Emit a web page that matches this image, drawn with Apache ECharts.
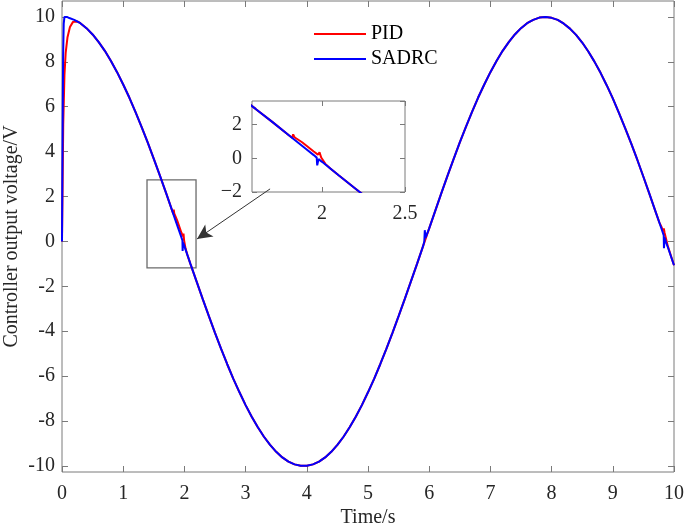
<!DOCTYPE html>
<html><head><meta charset="utf-8">
<script src="https://cdn.jsdelivr.net/npm/echarts@6/dist/echarts.min.js"></script>
<style>html,body{margin:0;padding:0;background:#fff}#c{width:685px;height:528px}</style>
</head><body><div id="c"></div><script>
// Sample times (s) of the tracked output
const time = [0,0.1,0.2,0.3,0.4,0.5,0.6,0.7,0.8,0.9,1,1.1,1.2,1.3,1.4,1.5,1.6,1.7,1.8,1.9,2,2.1,2.2,2.3,2.4,2.5,2.6,2.7,2.8,2.9,3,3.1,3.2,3.3,3.4,3.5,3.6,3.7,3.8,3.9,4,4.1,4.2,4.3,4.4,4.5,4.6,4.7,4.8,4.9,5,5.1,5.2,5.3,5.4,5.5,5.6,5.7,5.8,5.9,6,6.1,6.2,6.3,6.4,6.5,6.6,6.7,6.8,6.9,7,7.1,7.2,7.3,7.4,7.5,7.6,7.7,7.8,7.9,8,8.1,8.2,8.3,8.4,8.5,8.6,8.7,8.8,8.9,9,9.1,9.2,9.3,9.4,9.5,9.6,9.7,9.8,9.9,10];
// Common controller output (V) that both controllers follow
const reference = [10,9.97,9.87,9.72,9.50,9.22,8.88,8.49,8.04,7.54,6.99,6.41,5.77,5.10,4.41,3.68,2.93,2.16,1.37,0.58,-0.21,-1.01,-1.79,-2.57,-3.33,-4.07,-4.79,-5.47,-6.12,-6.72,-7.29,-7.81,-8.28,-8.70,-9.06,-9.37,-9.62,-9.81,-9.93,-9.99,-9.99,-9.93,-9.81,-9.62,-9.37,-9.06,-8.70,-8.28,-7.81,-7.29,-6.72,-6.12,-5.47,-4.79,-4.07,-3.33,-2.57,-1.79,-1.01,-0.21,0.58,1.37,2.16,2.93,3.68,4.41,5.10,5.77,6.41,6.99,7.54,8.04,8.49,8.88,9.22,9.50,9.72,9.87,9.97,10.00,9.96,9.87,9.70,9.48,9.20,8.86,8.46,8.01,7.51,6.96,6.37,5.73,5.06,4.37,3.64,2.88,2.11,1.32,0.53,-0.26,-1.06];

// PID local segments (start-up and zero-crossing disturbances)
const pidSegT = [
  [0,0.01,0.02,0.04,0.06,0.09,0.13,0.18,0.25],
  [1.82,1.826,1.834,1.88,1.95,1.975,1.985,1.995,2.02,2.05],
  [9.76,9.80,9.826,9.834,9.845,9.87,9.9]
];
const pidSegV = [
  [0,2.5,5.2,7.4,8.4,9.1,9.55,9.78,9.80],
  [1.22,1.42,1.25,0.95,0.40,0.22,0.35,0.05,-0.33,-0.61],
  [0.85,0.62,0.45,0.58,0.40,0.12,-0.22]
];
// SADRC local segments
const sadrcSegT = [
  [0,0.008,0.018,0.028,0.04,0.08,0.12],
  [1.95,1.968,1.971,1.976,1.979,1.99,2.0],
  [5.92,5.928,5.932,5.94],
  [9.82,9.832,9.836,9.842,9.846,9.87]
];
const sadrcSegV = [
  [0,4.0,8.2,9.7,10.0,10.0,9.95],
  [0.19,0.04,-0.42,-0.40,-0.05,-0.12,-0.21],
  [0.0,0.5,0.45,0.16],
  [0.37,0.27,-0.30,-0.28,0.17,-0.04]
];

const yTicks = [-10,-8,-6,-4,-2,0,2,4,6,8,10];
const insetXTicks = [2, 2.5];

function build(segT, segV) {
  const pts = [];
  segT.forEach((ts, g) => ts.forEach((t, i) => pts.push([t, segV[g][i]])));
  time.forEach((t, i) => {
    const inside = segT.some(ts => t >= ts[0] - 1e-9 && t <= ts[ts.length - 1] + 1e-9);
    if (!inside) pts.push([t, reference[i]]);
  });
  pts.sort((a, b) => a[0] - b[0]);
  return pts;
}
const pidData = build(pidSegT, pidSegV);
const sadrcData = build(sadrcSegT, sadrcSegV);

const FONT = 'Liberation Serif';
const AX = '#7a7a7a';
const TXT = '#262626';

function ax(grid, pos, opts, labels) {
  return Object.assign({
    type: 'value', gridIndex: grid, position: pos,
    axisLine: {show: false, onZero: false},
    axisTick: {show: true, inside: true, length: 6, lineStyle: {color: AX}},
    axisLabel: {show: labels, fontFamily: FONT, fontSize: 20, color: TXT, margin: 12},
    splitLine: {show: false},
    nameMoveOverlap: false
  }, opts);
}

const chart = echarts.init(document.getElementById('c'), null, {renderer: 'canvas'});
const option = {
  animation: false,
  backgroundColor: '#fff',
  legend: {
    data: ['PID', 'SADRC'], orient: 'vertical', left: 314, top: 24, padding: 0,
    icon: 'rect', itemWidth: 52, itemHeight: 2, itemGap: 5,
    textStyle: {fontFamily: FONT, fontSize: 20, color: '#000', lineHeight: 20, padding: [0,0,0,0]}
  },
  grid: [
    {left: 62, right: 11, top: 1, bottom: 56, containLabel: false, outerBoundsMode: 'none',
      show: true, borderColor: AX, borderWidth: 1, backgroundColor: 'rgba(0,0,0,0)'},
    {left: 252, top: 101, width: 153, height: 91, containLabel: false, outerBoundsMode: 'none',
      show: true, backgroundColor: '#fff', borderColor: AX, borderWidth: 1}
  ],
  xAxis: [
    ax(0, 'bottom', {min: 0, max: 10, interval: 1, name: 'Time/s', nameLocation: 'middle', nameGap: 36,
      nameTextStyle: {fontFamily: FONT, fontSize: 20, color: TXT}}, true),
    ax(0, 'top', {min: 0, max: 10, interval: 1}, false),
    ax(1, 'bottom', {min: 1.578, max: 2.5,
      axisTick: {show: true, inside: true, length: 5, lineStyle: {color: AX}, customValues: insetXTicks},
      axisLabel: {show: true, fontFamily: FONT, fontSize: 20, color: TXT, margin: 12, customValues: insetXTicks,
        formatter: v => String(v)}}, true),
    ax(1, 'top', {min: 1.578, max: 2.5,
      axisTick: {show: true, inside: true, length: 5, lineStyle: {color: AX}, customValues: insetXTicks}}, false)
  ],
  yAxis: [
    ax(0, 'left', {min: -10.27, max: 10.71,
      axisTick: {show: true, inside: true, length: 6, lineStyle: {color: AX}, customValues: yTicks},
      axisLabel: {show: true, fontFamily: FONT, fontSize: 20, color: TXT, margin: 7, customValues: yTicks},
      name: 'Controller output voltage/V', nameLocation: 'middle', nameGap: 40,
      nameTextStyle: {fontFamily: FONT, fontSize: 20, color: TXT}}, true),
    ax(0, 'right', {min: -10.27, max: 10.71,
      axisTick: {show: true, inside: true, length: 6, lineStyle: {color: AX}, customValues: yTicks}}, false),
    ax(1, 'left', {min: -2, max: 3.4, interval: 2,
      axisTick: {show: true, inside: true, length: 5, lineStyle: {color: AX}},
      axisLabel: {show: true, fontFamily: FONT, fontSize: 20, color: TXT, margin: 10,
        showMaxLabel: false, formatter: v => v < 0 ? '\u2212' + Math.abs(v) : String(v)}}, true),
    ax(1, 'right', {min: -2, max: 3.4, interval: 2,
      axisTick: {show: true, inside: true, length: 5, lineStyle: {color: AX}}}, false)
  ],
  series: [
    {name: 'PID', type: 'line', xAxisIndex: 0, yAxisIndex: 0, data: pidData, showSymbol: false,
      lineStyle: {color: '#ff0000', width: 2}, itemStyle: {color: '#ff0000'},
      markArea: {silent: true, itemStyle: {color: 'rgba(0,0,0,0)', borderColor: '#6b6b6b', borderWidth: 1.3},
        data: [[{coord: [1.389, 2.74]}, {coord: [2.19, -1.18]}]]}},
    {name: 'SADRC', type: 'line', xAxisIndex: 0, yAxisIndex: 0, data: sadrcData, showSymbol: false,
      lineStyle: {color: '#0000ff', width: 2}, itemStyle: {color: '#0000ff'},
      markLine: {silent: true, symbol: ['none', 'arrow'], symbolSize: [11, 15],
        lineStyle: {color: '#333', width: 1, type: 'solid'}, label: {show: false},
        data: [[{coord: [3.40, 2.34]}, {coord: [2.206, 0.11]}]]}},
    {name: 'PID', type: 'line', xAxisIndex: 2, yAxisIndex: 2, data: pidData, showSymbol: false,
      lineStyle: {color: '#ff0000', width: 2}, itemStyle: {color: '#ff0000'}},
    {name: 'SADRC', type: 'line', xAxisIndex: 2, yAxisIndex: 2, data: sadrcData, showSymbol: false,
      lineStyle: {color: '#0000ff', width: 2}, itemStyle: {color: '#0000ff'}}
  ]
};
chart.setOption(option);
</script></body></html>
